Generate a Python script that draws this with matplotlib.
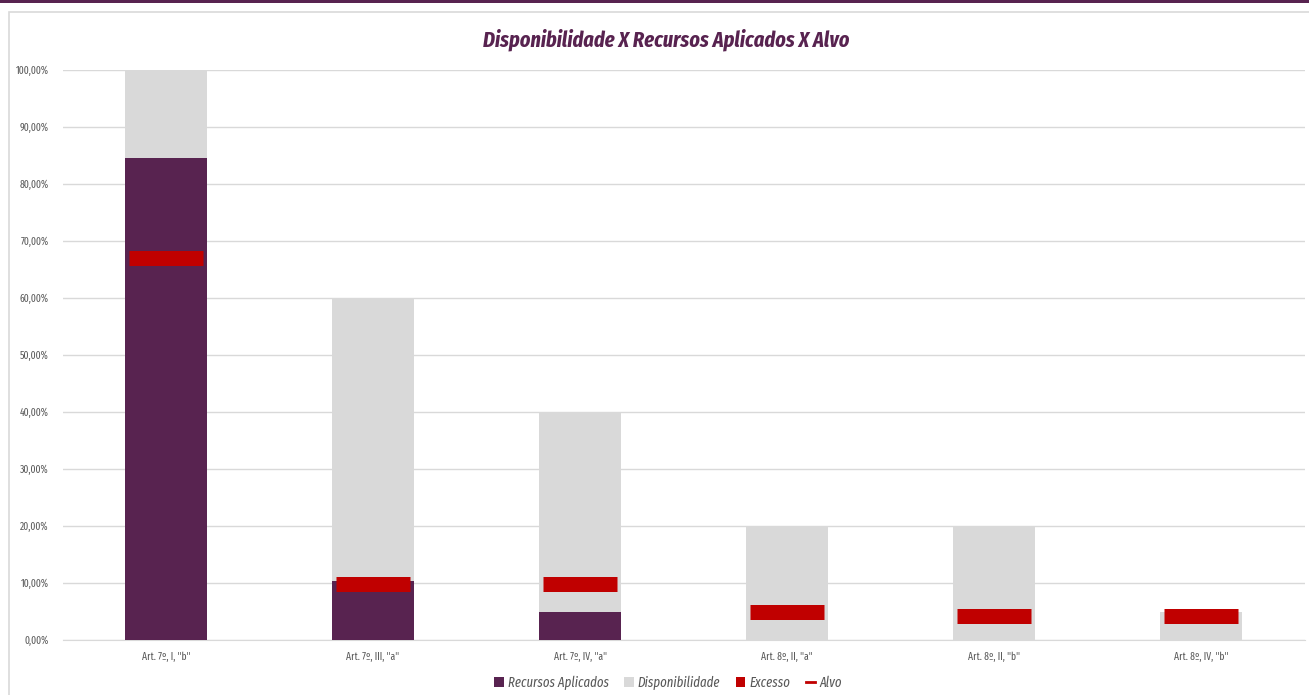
import matplotlib
matplotlib.use("Agg")
import matplotlib.pyplot as plt
from matplotlib.patches import Rectangle, Patch
from matplotlib.lines import Line2D
from matplotlib.ticker import FuncFormatter

categories = ['Art. 7º, I, "b"', 'Art. 7º, III, "a"', 'Art. 7º, IV, "a"',
              'Art. 8º, II, "a"', 'Art. 8º, II, "b"', 'Art. 8º, IV, "b"']
recursos = [84.5, 10.3, 5.0, 0.0, 0.0, 0.0]
limite = [100.0, 60.0, 40.0, 20.0, 20.0, 5.0]
disponibilidade = [l - r for l, r in zip(limite, recursos)]
excesso = [0.0, 0.0, 0.0, 0.0, 0.0, 0.0]
alvo = [67.0, 9.9, 9.9, 5.0, 4.2, 4.2]

PURPLE = '#582350'
GRAY = '#d9d9d9'
RED = '#c00000'
TXT = '#595959'
FONT = ['Fira Sans Extra Condensed', 'Fira Sans Condensed', 'DejaVu Sans']
plt.rcParams['font.family'] = FONT

W, H = 1309, 695
fig = plt.figure(figsize=(W / 100, H / 100), dpi=100)
fig.patch.set_facecolor('white')

# frame & top strip
fig.patches.append(Rectangle((9 / W, -0.1), 1.2, (H - 12) / H + 0.1, transform=fig.transFigure,
                             fill=False, edgecolor=GRAY, lw=1.2, zorder=0))
fig.patches.append(Rectangle((0, (H - 3) / H), 1, 3 / H, transform=fig.transFigure,
                             facecolor=PURPLE, edgecolor='none', zorder=1))

ax = fig.add_axes([62.5 / W, 55 / H, (1304.5 - 62.5) / W, 570 / H])
x = list(range(len(categories)))
bw = 0.4
ax.bar(x, recursos, bw, color=PURPLE, zorder=2, label='Recursos Aplicados')
ax.bar(x, disponibilidade, bw, bottom=recursos, color=GRAY, zorder=2, label='Disponibilidade')
ax.bar(x, excesso, bw, bottom=limite, color=RED, zorder=2, label='Excesso')
half = 0.18
ax.hlines(alvo, [i - half for i in x], [i + half for i in x], colors=RED,
          lw=15 * 0.72, capstyle='butt', zorder=3, label='Alvo')

ax.set_xlim(-0.5, len(categories) - 0.5)
ax.set_ylim(0, 100)
ax.set_yticks(range(0, 101, 10))
ax.yaxis.set_major_formatter(FuncFormatter(lambda v, p: f"{v:.2f}".replace('.', ',') + '%'))
ax.set_xticks(x)
ax.set_xticklabels(categories)
ax.grid(axis='y', color=GRAY, lw=1, zorder=0)
ax.set_axisbelow(True)
for s in ['top', 'right', 'left']:
    ax.spines[s].set_visible(False)
ax.spines['bottom'].set_color(GRAY)
ax.spines['bottom'].set_zorder(1)
ax.tick_params(axis='both', length=0, colors=TXT, labelsize=7.5)
ax.tick_params(axis='y', pad=10)
ax.tick_params(axis='x', pad=8)

fig.text(666 / W, 1 - 40 / H, 'Disponibilidade X Recursos Aplicados X Alvo',
         ha='center', va='center', fontsize=15.8, fontweight='bold', fontstyle='italic',
         color=PURPLE)

handles = [Patch(facecolor=PURPLE, edgecolor='none'),
           Patch(facecolor=GRAY, edgecolor='none'),
           Patch(facecolor=RED, edgecolor='none'),
           Line2D([0], [0], color=RED, lw=2)]
labels = ['Recursos Aplicados', 'Disponibilidade', 'Excesso', 'Alvo']
leg = fig.legend(handles, labels, loc='center', bbox_to_anchor=(668 / W, 1 - 683 / H),
                 ncol=4, frameon=False, handlelength=0.7, handleheight=0.7,
                 handletextpad=0.3, columnspacing=1.1,
                 prop={'size': 10, 'style': 'italic', 'family': FONT})
for t in leg.get_texts():
    t.set_color(TXT)

fig.savefig('out.png', dpi=100)
